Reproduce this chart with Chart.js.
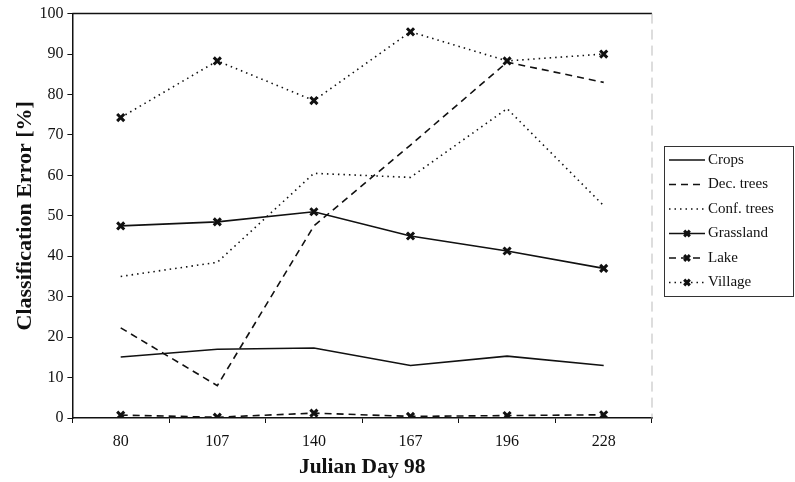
<!DOCTYPE html>
<html>
<head>
<meta charset="utf-8">
<script src="https://cdn.jsdelivr.net/npm/chart.js@4.4.1/dist/chart.umd.min.js"></script>
<style>
  html, body { margin: 0; padding: 0; background: #fff; }
  #wrap { width: 795px; height: 482px; position: relative; }
</style>
</head>
<body>
<div id="wrap"><canvas id="chart"></canvas></div>
<script>
// Julian days (x categories)
const days = ['80', '107', '140', '167', '196', '228'];

// classification error per class, in %
const crops      = [15.1, 17.0, 17.3, 13.0, 15.3, 13.0];
const decTrees   = [22.3, 8.0, 47.5, 67.5, 88.0, 83.0];
const confTrees  = [35.0, 38.5, 60.5, 59.5, 76.5, 52.5];
const grassland  = [47.5, 48.5, 51.0, 45.0, 41.3, 37.0];
const lake       = [0.7, 0.2, 1.2, 0.4, 0.6, 0.8];
const village    = [74.3, 88.3, 78.5, 95.5, 88.3, 90.0];

const yTicks = [0, 10, 20, 30, 40, 50, 60, 70, 80, 90, 100];

const FONT = "'Liberation Serif', 'Times New Roman', serif";

function series(label, data, dash, marker) {
    return {
        label: label,
        data: data,
        borderColor: '#111',
        backgroundColor: '#111',
        borderWidth: 1.6,
        borderDash: dash,
        tension: 0,
        fill: false,
        pointStyle: marker ? 'crossRot' : false,
        pointRadius: marker ? 5 : 0,
        pointBorderWidth: 3,
        pointBorderColor: '#111'
    };
}

// legend in a box to the right of the plot + top frame line
const frameAndLegend = {
    id: 'frameAndLegend',
    afterDraw(chart) {
        const ctx = chart.ctx;
        const a = chart.chartArea;
        ctx.save();
        ctx.strokeStyle = '#111';
        ctx.lineWidth = 1.5;
        ctx.beginPath();
        ctx.moveTo(a.left, a.top);
        ctx.lineTo(a.right, a.top);
        ctx.stroke();
        ctx.strokeStyle = '#bbb';
        ctx.lineWidth = 1;
        ctx.setLineDash([10, 6]);
        ctx.beginPath();
        ctx.moveTo(a.right, a.top);
        ctx.lineTo(a.right, a.bottom);
        ctx.stroke();
        ctx.setLineDash([]);

        // legend box
        const bx = 664, by = 146, bw = 129, bh = 150;
        ctx.strokeStyle = '#333';
        ctx.lineWidth = 1;
        ctx.strokeRect(bx + 0.5, by + 0.5, bw, bh);
        ctx.font = '15px ' + FONT;
        ctx.fillStyle = '#111';
        ctx.textBaseline = 'middle';
        chart.data.datasets.forEach((ds, i) => {
            const y = by + 14 + i * 24.5;
            ctx.strokeStyle = '#111';
            ctx.lineWidth = 1.6;
            ctx.setLineDash(ds.borderDash || []);
            ctx.beginPath();
            ctx.moveTo(bx + 5, y);
            ctx.lineTo(bx + 41, y);
            ctx.stroke();
            ctx.setLineDash([]);
            if (ds.pointRadius > 0) {
                ctx.lineWidth = 3;
                Chart.helpers.drawPoint(ctx, { pointStyle: 'crossRot', radius: 4, rotation: 0, borderWidth: 3 }, bx + 23, y);
            }
            ctx.fillText(ds.label, bx + 44, y);
        });
        ctx.restore();
    }
};

new Chart(document.getElementById('chart'), {
    type: 'line',
    data: {
        labels: days,
        datasets: [
            series('Crops', crops, [], false),
            series('Dec. trees', decTrees, [7, 5], false),
            series('Conf. trees', confTrees, [1.5, 4], false),
            series('Grassland', grassland, [], true),
            series('Lake', lake, [7, 5], true),
            series('Village', village, [1.5, 4], true)
        ]
    },
    options: {
        responsive: true,
        maintainAspectRatio: false,
        animation: false,
        layout: { padding: { top: 9, right: 143, left: 12, bottom: 2 } },
        plugins: {
            legend: { display: false },
            tooltip: { enabled: false }
        },
        scales: {
            x: {
                offset: true,
                grid: {
                    offset: true,
                    drawOnChartArea: false,
                    tickLength: 5,
                    color: '#111'
                },
                border: { color: '#111', width: 1.5 },
                ticks: { color: '#111', font: { family: FONT, size: 16 }, padding: 9 },
                title: {
                    display: true,
                    text: 'Julian Day 98',
                    color: '#111',
                    font: { family: FONT, size: 21.5, weight: 'bold' },
                    padding: { top: -6, bottom: 0 }
                }
            },
            y: {
                min: 0,
                max: 100,
                afterBuildTicks(axis) { axis.ticks = yTicks.map(v => ({ value: v })); },
                grid: { drawOnChartArea: false, tickLength: 5, color: '#111' },
                border: { color: '#111', width: 1.5 },
                ticks: { color: '#111', font: { family: FONT, size: 16 }, padding: 4 },
                title: {
                    display: true,
                    text: 'Classification Error [%]',
                    color: '#111',
                    font: { family: FONT, size: 22, weight: 'bold' },
                    padding: { top: 0, bottom: -3 }
                }
            }
        }
    },
    plugins: [frameAndLegend]
});
</script>
</body>
</html>
